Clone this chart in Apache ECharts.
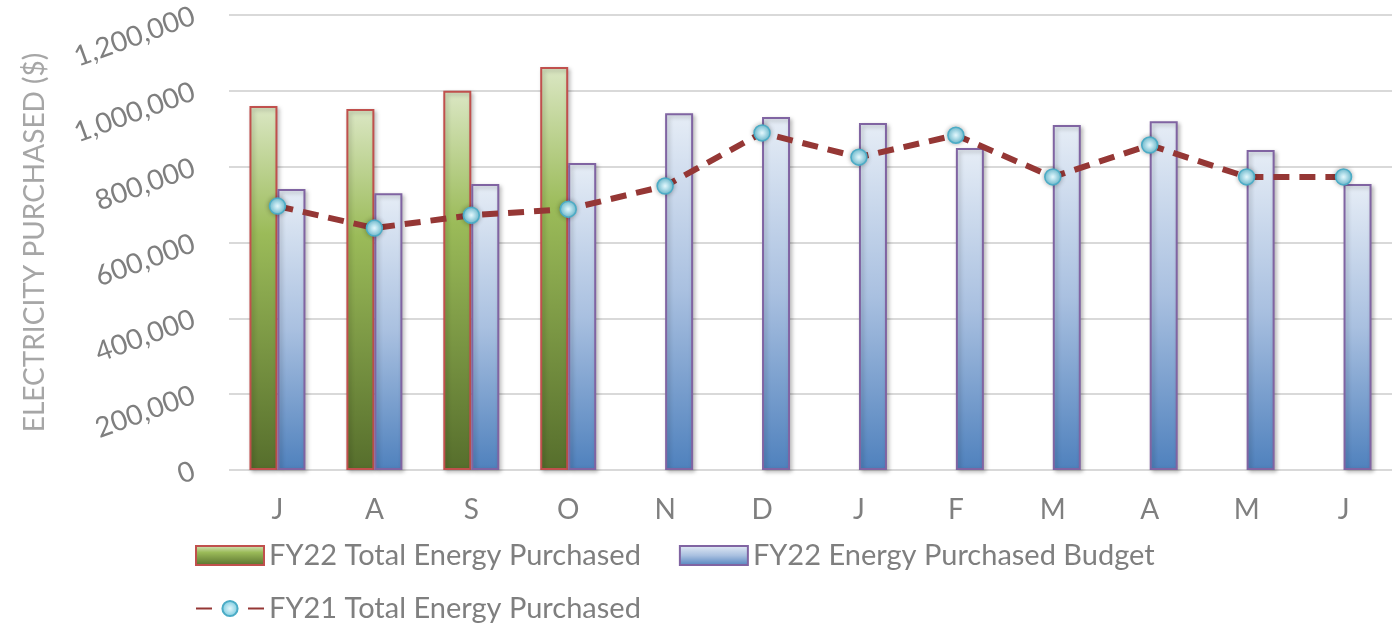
<!DOCTYPE html>
<html>
<head>
    <meta charset="utf-8">
    <title>Electricity Purchased</title>
    <script src="https://cdn.jsdelivr.net/npm/echarts@6/dist/echarts.min.js"></script>
    <style>
        html, body { margin: 0; padding: 0; width: 100%; height: 100%; background: #fff; }
    </style>
</head>
<body>
    <div id="main" style="width: 1392px;height:631px;"></div>
    <script type="text/javascript">

var months = ['J', 'A', 'S', 'O', 'N', 'D', 'J', 'F', 'M', 'A', 'M', 'J'];
var fy22Total = [960000, 952000, 1000000, 1063000, null, null, null, null, null, null, null, null];
var fy22Budget = [741000, 730000, 754000, 810000, 941000, 931000, 915000, 849000, 910000, 920000, 844000, 754000];
var fy21Total = [696000, 638000, 672000, 688000, 749000, 889000, 825000, 883000, 773000, 857000, 773000, 773000];

var font = 'Lato';
var grey = '#7f7f7f';

var greenFill = new echarts.graphic.LinearGradient(0, 0, 0, 1, [
    { offset: 0, color: '#dbe7c4' },
    { offset: 0.35, color: '#9bbb59' },
    { offset: 1, color: '#566e2c' }
]);
var blueFill = new echarts.graphic.LinearGradient(0, 0, 0, 1, [
    { offset: 0, color: '#e6edf6' },
    { offset: 0.5, color: '#a9c0e0' },
    { offset: 1, color: '#4f81bd' }
]);
var dotFill = new echarts.graphic.RadialGradient(0.5, 0.5, 0.6, [
    { offset: 0, color: '#e3f6fb' },
    { offset: 0.6, color: '#93d5e6' },
    { offset: 1, color: '#31a2bd' }
]);

var myChart = echarts.init(document.getElementById('main'));
myChart.setOption({
    animation: false,
    textStyle: { fontFamily: font },
    grid: { left: 229, right: 0, top: 15, bottom: 161 },
    legend: [
        {
            left: 190, top: 536,
            itemWidth: 68, itemHeight: 19, itemGap: 38,
            textStyle: { fontSize: 29, color: grey, fontFamily: font },
            data: [
                { name: 'FY22 Total Energy Purchased', icon: 'rect' },
                { name: 'FY22 Energy Purchased Budget', icon: 'rect' }
            ]
        },
        {
            left: 190, top: 589,
            itemWidth: 68, itemHeight: 19,
            textStyle: { fontSize: 29, color: grey, fontFamily: font },
            data: ['FY21 Total Energy Purchased']
        }
    ],
    xAxis: {
        type: 'category',
        data: months,
        axisLine: { show: false },
        axisTick: { show: false },
        axisLabel: { fontSize: 28, color: grey, margin: 26 }
    },
    yAxis: {
        type: 'value',
        min: 0, max: 1200000, interval: 200000,
        name: 'ELECTRICITY PURCHASED ($)',
        nameLocation: 'middle',
        nameRotate: 90,
        nameGap: 180,
        nameTextStyle: { fontSize: 28, color: '#a6a6a6', fontFamily: font },
        axisLabel: {
            fontSize: 28, color: grey, rotate: 20, margin: 35,
            formatter: function (v) { return v.toLocaleString('en-US'); }
        },
        splitLine: { lineStyle: { color: '#d9d9d9', width: 2 } }
    },
    series: [
        {
            name: 'FY22 Total Energy Purchased',
            type: 'bar',
            data: fy22Total,
            barWidth: 28,
            barGap: '0%',
            itemStyle: {
                color: greenFill,
                borderColor: '#c0504d',
                borderWidth: 2,
                shadowBlur: 4,
                shadowColor: 'rgba(0,0,0,0.25)',
                shadowOffsetX: 2,
                shadowOffsetY: 2
            }
        },
        {
            name: 'FY22 Energy Purchased Budget',
            type: 'bar',
            data: fy22Budget,
            barWidth: 28,
            barGap: '0%',
            itemStyle: {
                color: blueFill,
                borderColor: '#8064a2',
                borderWidth: 2,
                shadowBlur: 4,
                shadowColor: 'rgba(0,0,0,0.25)',
                shadowOffsetX: 2,
                shadowOffsetY: 2
            }
        },
        {
            name: 'FY21 Total Energy Purchased',
            type: 'line',
            data: fy21Total,
            symbol: 'circle',
            symbolSize: 16,
            z: 5,
            lineStyle: { color: '#953735', width: 6, type: [16, 10] },
            itemStyle: {
                color: dotFill,
                borderColor: '#4bacc6',
                borderWidth: 1.5,
                shadowBlur: 5,
                shadowColor: 'rgba(0,0,0,0.3)'
            }
        }
    ]
});
</script>
</body>
</html>
